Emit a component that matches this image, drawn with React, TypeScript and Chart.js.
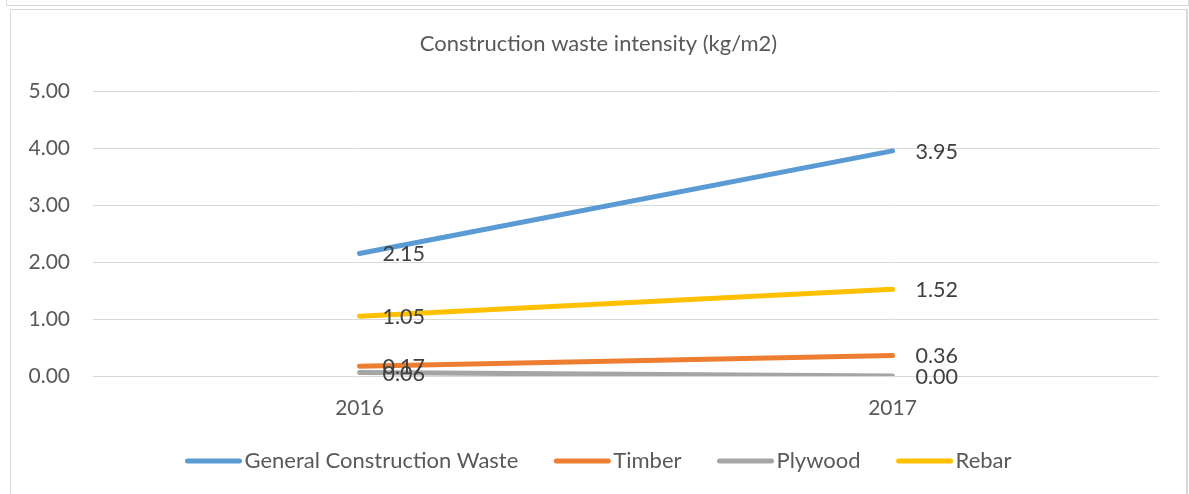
import React, { useEffect, useRef } from "react";
import { Chart, registerables } from "chart.js";

Chart.register(...registerables);

const categories = ["2016", "2017"];
const seriesNames = ["General Construction Waste", "Timber", "Plywood", "Rebar"];
const generalWaste = [2.15, 3.95];
const timber = [0.17, 0.36];
const plywood = [0.06, 0.0];
const rebar = [1.05, 1.52];
const seriesColors = ["#5B9BD5", "#ED7D31", "#A5A5A5", "#FFC000"];
const yTicks = [0, 1, 2, 3, 4, 5];
const titleText = "Construction waste intensity (kg/m2)";

const FONT = "Lato, 'Open Sans', sans-serif";
const FRAME_CENTER_X = 598.5;

const dataLabelPlugin = {
  id: "dataLabels",
  afterDatasetsDraw(chart: any) {
    const ctx = chart.ctx;
    ctx.save();
    ctx.font = `21.5px ${FONT}`;
    ctx.fillStyle = "#404040";
    ctx.textAlign = "left";
    ctx.textBaseline = "middle";
    chart.data.datasets.forEach((ds: any, i: number) => {
      const meta = chart.getDatasetMeta(i);
      meta.data.forEach((pt: any, j: number) => {
        ctx.fillText(Number(ds.data[j]).toFixed(2), pt.x + 23, pt.y + 1);
      });
    });
    ctx.restore();
  },
};

const titlePlugin = {
  id: "customTitle",
  afterDraw(chart: any) {
    const ctx = chart.ctx;
    ctx.save();
    ctx.font = `22px ${FONT}`;
    ctx.fillStyle = "#595959";
    ctx.textAlign = "center";
    ctx.textBaseline = "middle";
    ctx.fillText(titleText, FRAME_CENTER_X, 44);
    ctx.restore();
  },
};

const legendPlugin = {
  id: "customLegend",
  afterDraw(chart: any) {
    const ctx = chart.ctx;
    ctx.save();
    ctx.font = `22px ${FONT}`;
    const lineLen = 56;
    const gap = 3;
    const spacing = 36;
    const widths = chart.data.datasets.map(
      (ds: any) => lineLen + gap + ctx.measureText(ds.label).width
    );
    const total = widths.reduce((a: number, b: number) => a + b, 0) + spacing * (widths.length - 1);
    let x = FRAME_CENTER_X - total / 2;
    const y = 461;
    chart.data.datasets.forEach((ds: any, i: number) => {
      ctx.strokeStyle = ds.borderColor;
      ctx.lineWidth = 5;
      ctx.lineCap = "round";
      ctx.beginPath();
      ctx.moveTo(x + 2, y);
      ctx.lineTo(x + lineLen - 2, y);
      ctx.stroke();
      ctx.fillStyle = "#595959";
      ctx.textAlign = "left";
      ctx.textBaseline = "middle";
      ctx.fillText(ds.label, x + lineLen + gap, y);
      x += widths[i] + spacing;
    });
    ctx.restore();
  },
};

export default function App() {
  const canvasRef = useRef<HTMLCanvasElement | null>(null);

  useEffect(() => {
    if (!canvasRef.current) return;
    const allSeries = [generalWaste, timber, plywood, rebar];
    const chart = new Chart(canvasRef.current, {
      type: "line",
      data: {
        labels: categories,
        datasets: allSeries.map((d, i) => ({
          label: seriesNames[i],
          data: d,
          borderColor: seriesColors[i],
          backgroundColor: seriesColors[i],
          borderWidth: 5,
          borderCapStyle: "round" as const,
          pointRadius: 0,
          pointHoverRadius: 0,
          tension: 0,
          order: 4 - i,
        })),
      },
      options: {
        animation: false,
        responsive: false,
        maintainAspectRatio: false,
        layout: { padding: { top: 91, left: 0, right: 30, bottom: 0 } },
        plugins: {
          legend: { display: false },
          tooltip: { enabled: false },
          title: { display: false },
        },
        scales: {
          x: {
            type: "category",
            offset: true,
            grid: { display: false, drawTicks: false },
            border: { display: false },
            ticks: {
              color: "#595959",
              font: { family: FONT, size: 21 },
              padding: 19.4,
            },
            afterFit(scale: any) {
              scale.height = 118;
            },
          },
          y: {
            min: 0,
            max: 5,
            afterBuildTicks(scale: any) {
              scale.ticks = yTicks.map((v) => ({ value: v }));
            },
            grid: { color: "#D9D9D9", lineWidth: 1, drawTicks: false },
            border: { display: false },
            ticks: {
              color: "#595959",
              font: { family: FONT, size: 21 },
              padding: 23,
              callback: (v: any) => Number(v).toFixed(2),
            },
            afterFit(scale: any) {
              scale.width = 93;
            },
          },
        },
      },
      plugins: [dataLabelPlugin, titlePlugin, legendPlugin],
    });
    return () => chart.destroy();
  }, []);

  return (
    <div style={{ position: "absolute", left: 0, top: 0, width: 1189, height: 494, overflow: "hidden", background: "#fff" }}>
      <div style={{ position: "absolute", left: 6, top: -10, width: 1181, height: 14, border: "1px solid #D9D9D9" }} />
      <div style={{ position: "absolute", left: 10, top: 9, width: 1175, height: 500, border: "1px solid #D9D9D9", borderRightWidth: 2 }} />
      <canvas ref={canvasRef} width={1189} height={494} style={{ position: "absolute", left: 0, top: 0, width: 1189, height: 494 }} />
    </div>
  );
}
